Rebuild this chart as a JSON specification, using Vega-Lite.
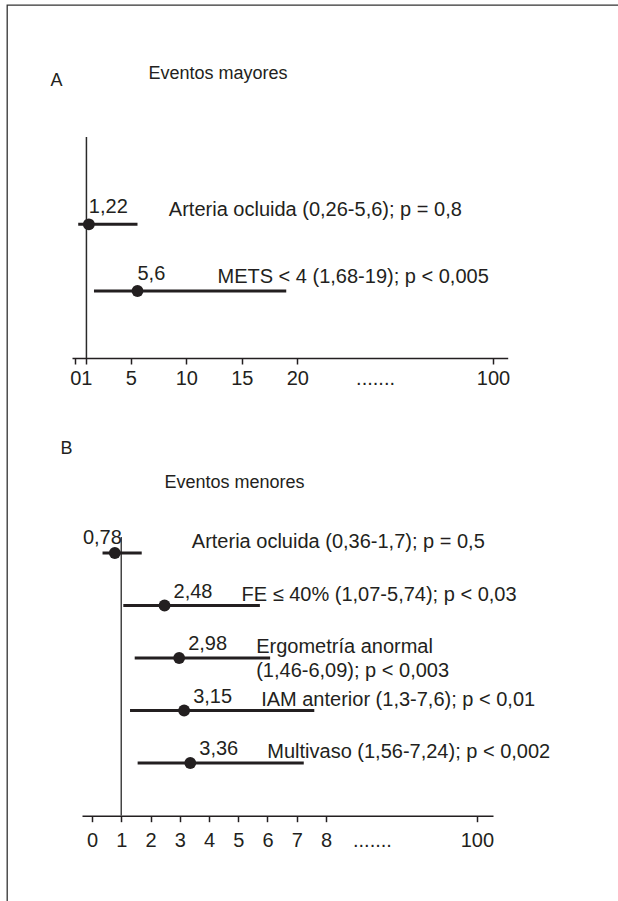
{
  "$schema": "https://vega.github.io/schema/vega-lite/v6.json",
  "autosize": {"type": "none"},
  "width": 614,
  "height": 899,
  "padding": {"left": 7, "top": 5, "right": -3, "bottom": -3},
  "background": "white",
  "config": {
    "locale": {"number": {"decimal": ",", "thousands": ".", "grouping": [3], "currency": ["", " €"]}},
    "view": {"stroke": "#333333", "strokeWidth": 1.3},
    "font": "Liberation Sans",
    "axis": {
      "labelFont": "Liberation Sans", "labelFontSize": 20, "labelColor": "#231f20",
      "titleFont": "Liberation Sans", "titleFontSize": 18, "titleFontWeight": "normal", "titleColor": "#231f20",
      "domainColor": "#231f20", "domainWidth": 1.5, "tickColor": "#231f20", "tickWidth": 1.5, "grid": false
    },
    "text": {"font": "Liberation Sans", "fontSize": 20, "color": "#231f20"}
  },
  "datasets": {
    "mayores": [
      {"factor": "Arteria ocluida", "est": 1.22, "lo": 0.26, "hi": 5.6, "desc": "Arteria ocluida (0,26-5,6); p = 0,8"},
      {"factor": "METS < 4", "est": 5.6, "lo": 1.68, "hi": 19, "desc": "METS < 4 (1,68-19); p < 0,005"}
    ],
    "menores": [
      {"factor": "Arteria ocluida", "est": 0.78, "lo": 0.36, "hi": 1.7, "desc": "Arteria ocluida (0,36-1,7); p = 0,5"},
      {"factor": "FE ≤ 40%", "est": 2.48, "lo": 1.07, "hi": 5.74, "desc": "FE ≤ 40% (1,07-5,74); p < 0,03"},
      {"factor": "Ergometría anormal", "est": 2.98, "lo": 1.46, "hi": 6.09, "desc": "Ergometría anormal\n(1,46-6,09); p < 0,003"},
      {"factor": "IAM anterior", "est": 3.15, "lo": 1.3, "hi": 7.6, "desc": "IAM anterior (1,3-7,6); p < 0,01"},
      {"factor": "Multivaso", "est": 3.36, "lo": 1.56, "hi": 7.24, "desc": "Multivaso (1,56-7,24); p < 0,002"}
    ]
  },
  "layer": [
    {
      "layer": [
        {
          "data": {"values": [{}]},
          "mark": {"type": "rule", "strokeWidth": 1.5, "color": "#2a2a2a"},
          "encoding": {
            "x": {"datum": 1, "type": "quantitative",
              "scale": {"domain": [-0.3, 38.95], "range": [65, 500.7], "nice": false, "zero": false},
              "axis": {"orient": "bottom", "offset": -546, "values": [0, 1, 5, 10, 15, 20, 27, 37.63],
                "labelExpr": "datum.value == 27 ? '.......' : (datum.value > 30 ? '100' : datum.label)",
                "tickOpacity": {"condition": {"test": "datum.value == 27", "value": 0}, "value": 1},
                "labelOverlap": false, "labelFlush": false, "labelPadding": 4, "tickSize": 6,
                "title": "Eventos mayores", "titleX": 141, "titleY": -285, "titleAlign": "left", "titleBaseline": "middle"}},
            "y": {"datum": 0, "type": "quantitative",
              "scale": {"domain": [0, 1], "range": [132, 353], "nice": false, "zero": false},
              "axis": {"orient": "left", "domain": false, "ticks": false, "labels": false,
                "title": "A", "titleAngle": 0, "titleX": 43, "titleY": 75, "titleAlign": "left", "titleBaseline": "middle"}},
            "y2": {"datum": 1}
          }
        },
        {
          "data": {"name": "mayores"},
          "encoding": {
            "x": {"field": "est", "type": "quantitative",
              "scale": {"domain": [-0.3, 38.95], "range": [65, 500.7], "nice": false, "zero": false},
              "axis": {"orient": "bottom", "offset": -546, "values": [0, 1, 5, 10, 15, 20, 27, 37.63],
                "labelExpr": "datum.value == 27 ? '.......' : (datum.value > 30 ? '100' : datum.label)",
                "tickOpacity": {"condition": {"test": "datum.value == 27", "value": 0}, "value": 1},
                "labelOverlap": false, "labelFlush": false, "labelPadding": 4, "tickSize": 6,
                "title": "Eventos mayores", "titleX": 141, "titleY": -285, "titleAlign": "left", "titleBaseline": "middle"}},
            "y": {"field": "factor", "type": "nominal", "sort": null,
              "scale": {"type": "point", "range": [219.3, 286], "padding": 0}, "axis": null}
          },
          "layer": [
            {
              "mark": {"type": "rule", "strokeWidth": 3, "color": "#231f20"},
              "encoding": {
                "x": {"field": "lo", "type": "quantitative",
                  "scale": {"domain": [-0.3, 38.95], "range": [65, 500.7], "nice": false, "zero": false},
                  "axis": {"orient": "bottom", "offset": -546, "values": [0, 1, 5, 10, 15, 20, 27, 37.63],
                    "labelExpr": "datum.value == 27 ? '.......' : (datum.value > 30 ? '100' : datum.label)",
                    "tickOpacity": {"condition": {"test": "datum.value == 27", "value": 0}, "value": 1},
                    "labelOverlap": false, "labelFlush": false, "labelPadding": 4, "tickSize": 6,
                    "title": "Eventos mayores", "titleX": 141, "titleY": -285, "titleAlign": "left", "titleBaseline": "middle"}},
                "x2": {"field": "hi"}
              }
            },
            {"mark": {"type": "point", "filled": true, "size": 140, "opacity": 1, "color": "#231f20"}},
            {
              "mark": {"type": "text", "align": "left", "baseline": "alphabetic", "dx": 0, "dy": -11},
              "encoding": {"text": {"field": "est", "type": "quantitative", "format": ".2~f"}}
            },
            {
              "mark": {"type": "text", "align": "left", "baseline": "alphabetic", "dx": 80, "dy": -8, "lineBreak": "\n", "lineHeight": 24},
              "encoding": {"text": {"field": "desc", "type": "nominal"}}
            }
          ]
        }
      ],
      "resolve": {"scale": {"y": "independent"}, "axis": {"y": "independent"}}
    },
    {
      "layer": [
        {
          "data": {"values": [{}]},
          "mark": {"type": "rule", "strokeWidth": 1.5, "color": "#444444"},
          "encoding": {
            "x": {"datum": 1, "type": "quantitative",
              "scale": {"domain": [-0.342, 13.71], "range": [75, 486], "nice": false, "zero": false},
              "axis": {"orient": "bottom", "offset": -88.3, "values": [0, 1, 2, 3, 4, 5, 6, 7, 8, 9.57, 13.16],
                "labelExpr": "datum.value == 9.57 ? '.......' : (datum.value > 13 ? '100' : datum.label)",
                "tickOpacity": {"condition": {"test": "datum.value == 9.57", "value": 0}, "value": 1},
                "labelOverlap": false, "labelFlush": false, "labelPadding": 9, "tickSize": 6,
                "title": "Eventos menores", "titleX": 157, "titleY": -333.7, "titleAlign": "left", "titleBaseline": "middle"}},
            "y": {"datum": 0, "type": "quantitative",
              "scale": {"domain": [0, 1], "range": [532, 810.7], "nice": false, "zero": false},
              "axis": {"orient": "left", "domain": false, "ticks": false, "labels": false,
                "title": "B", "titleAngle": 0, "titleX": 53, "titleY": 443, "titleAlign": "left", "titleBaseline": "middle"}},
            "y2": {"datum": 1}
          }
        },
        {
          "data": {"name": "menores"},
          "encoding": {
            "x": {"field": "est", "type": "quantitative",
              "scale": {"domain": [-0.342, 13.71], "range": [75, 486], "nice": false, "zero": false},
              "axis": {"orient": "bottom", "offset": -88.3, "values": [0, 1, 2, 3, 4, 5, 6, 7, 8, 9.57, 13.16],
                "labelExpr": "datum.value == 9.57 ? '.......' : (datum.value > 13 ? '100' : datum.label)",
                "tickOpacity": {"condition": {"test": "datum.value == 9.57", "value": 0}, "value": 1},
                "labelOverlap": false, "labelFlush": false, "labelPadding": 9, "tickSize": 6,
                "title": "Eventos menores", "titleX": 157, "titleY": -333.7, "titleAlign": "left", "titleBaseline": "middle"}},
            "y": {"field": "factor", "type": "nominal", "sort": null,
              "scale": {"type": "point", "range": [548, 758], "padding": 0}, "axis": null}
          },
          "layer": [
            {
              "mark": {"type": "rule", "strokeWidth": 3, "color": "#231f20"},
              "encoding": {
                "x": {"field": "lo", "type": "quantitative",
                  "scale": {"domain": [-0.342, 13.71], "range": [75, 486], "nice": false, "zero": false},
                  "axis": {"orient": "bottom", "offset": -88.3, "values": [0, 1, 2, 3, 4, 5, 6, 7, 8, 9.57, 13.16],
                    "labelExpr": "datum.value == 9.57 ? '.......' : (datum.value > 13 ? '100' : datum.label)",
                    "tickOpacity": {"condition": {"test": "datum.value == 9.57", "value": 0}, "value": 1},
                    "labelOverlap": false, "labelFlush": false, "labelPadding": 9, "tickSize": 6,
                    "title": "Eventos menores", "titleX": 157, "titleY": -333.7, "titleAlign": "left", "titleBaseline": "middle"}},
                "x2": {"field": "hi"}
              }
            },
            {"mark": {"type": "point", "filled": true, "size": 140, "opacity": 1, "color": "#231f20"}},
            {
              "transform": [{"filter": "datum.est >= 1"}],
              "mark": {"type": "text", "align": "left", "baseline": "alphabetic", "dx": 9, "dy": -8},
              "encoding": {"text": {"field": "est", "type": "quantitative", "format": ".2~f"}}
            },
            {
              "transform": [{"filter": "datum.est < 1"}],
              "mark": {"type": "text", "align": "right", "baseline": "alphabetic", "dx": 7, "dy": -9},
              "encoding": {"text": {"field": "est", "type": "quantitative", "format": ".2~f"}}
            },
            {
              "mark": {"type": "text", "align": "left", "baseline": "alphabetic", "dx": 77, "dy": -5, "lineBreak": "\n", "lineHeight": 24},
              "encoding": {"text": {"field": "desc", "type": "nominal"}}
            }
          ]
        }
      ],
      "resolve": {"scale": {"y": "independent"}, "axis": {"y": "independent"}}
    }
  ],
  "resolve": {"scale": {"x": "independent", "y": "independent"}, "axis": {"x": "independent", "y": "independent"}}
}
